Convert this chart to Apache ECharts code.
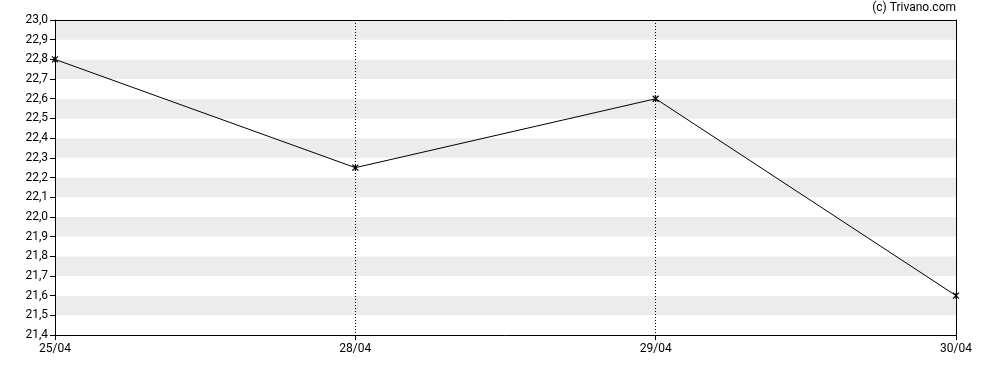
<!DOCTYPE html>
<html>
<head>
<meta charset="utf-8">
<script src="https://cdn.jsdelivr.net/npm/echarts@6/dist/echarts.min.js"></script>
<style>html,body{margin:0;padding:0;background:#fff;}#c{width:988px;height:370px;}</style>
</head>
<body>
<div id="c"></div>
<script>
const categories = ['25/04', '28/04', '29/04', '30/04'];
const values = [22.8, 22.25, 22.6, 21.6];
const yMin = 21.4, yMax = 23.0, yStep = 0.1;

const chart = echarts.init(document.getElementById('c'));
const font = 'Roboto, "DejaVu Sans", sans-serif';
const last = categories.length - 1;
chart.setOption({
  animation: false,
  backgroundColor: '#fff',
  graphic: [{
    type: 'text', right: 32, top: 2,
    style: { text: '(c) Trivano.com', font: '12px ' + font, fill: '#000', textAlign: 'right' }
  }],
  grid: { left: 55, right: 32, top: 20, bottom: 35, show: false },
  xAxis: [{
    type: 'category', data: categories, boundaryGap: false,
    axisLine: { lineStyle: { color: '#000' } },
    axisTick: { show: true, length: 5, lineStyle: { color: '#000' } },
    axisLabel: { color: '#000', fontFamily: font, fontSize: 12, margin: 8 },
    splitLine: { show: true, interval: (i) => i > 0 && i < last,
      lineStyle: { color: '#000', type: [1, 2], width: 1 } }
  }, {
    type: 'category', data: categories, boundaryGap: false, position: 'top',
    axisLine: { show: true, lineStyle: { color: '#000' } },
    axisTick: { show: false }, axisLabel: { show: false }, splitLine: { show: false }
  }],
  yAxis: [{
    type: 'value', min: yMin, max: yMax, interval: yStep,
    axisLine: { show: true, lineStyle: { color: '#000' } },
    axisTick: { show: true, length: 5, lineStyle: { color: '#000' } },
    axisLabel: { color: '#000', fontFamily: font, fontSize: 12, margin: 7,
      formatter: v => v.toFixed(1).replace('.', ',') },
    splitLine: { show: false },
    splitArea: { show: true, areaStyle: { color: ['#ffffff', '#ececec'] } }
  }, {
    type: 'value', min: yMin, max: yMax, interval: yStep, position: 'right',
    axisLine: { show: true, lineStyle: { color: '#000' } },
    axisTick: { show: false }, axisLabel: { show: false }, splitLine: { show: false }
  }],
  series: [{
    type: 'line', data: values, z: 5,
    lineStyle: { color: '#000', width: 1 },
    symbol: 'path://M0,0L10,10M10,0L0,10M5,0L5,10',
    symbolSize: 6,
    showAllSymbol: true,
    itemStyle: { color: 'transparent', borderColor: '#000', borderWidth: 1.2 },
    emphasis: { disabled: true }
  }]
});
</script>
</body>
</html>
